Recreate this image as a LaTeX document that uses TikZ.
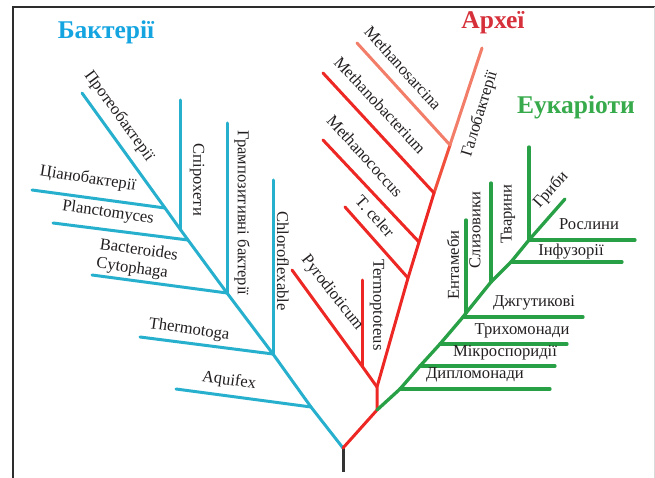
\documentclass[tikz,border=0pt]{standalone}
\usepackage{fontspec}
\setmainfont{Liberation Serif}
\definecolor{bline}{RGB}{38,176,205}
\definecolor{btitle}{RGB}{20,165,225}
\definecolor{rline}{RGB}{237,40,36}
\definecolor{rmid}{RGB}{240,80,60}
\definecolor{rlight}{RGB}{242,125,105}
\definecolor{rtitle}{RGB}{214,48,58}
\definecolor{gline}{RGB}{40,160,70}
\definecolor{gtitle}{RGB}{55,170,75}
\definecolor{txt}{RGB}{35,31,32}
\definecolor{frame}{RGB}{45,45,45}
\begin{document}
\begin{tikzpicture}[x=1pt,y=-1pt,
  br/.style={line width=3pt,line join=round,line cap=round},
  blue/.style={br,draw=bline},
  red/.style={br,draw=rline},
  green/.style={br,draw=gline,line width=3.3pt},
  lbl/.style={font=\fontsize{16.6}{19}\selectfont,text=txt,inner sep=0pt,anchor=center},
  ttl/.style={font=\fontsize{25.5}{28}\selectfont\bfseries,inner sep=0pt,anchor=center}]
\useasboundingbox (0,0) rectangle (655,478);
% frame
\coordinate (f0) at (12.5,478);
\coordinate (f1) at (12.5,7);
\coordinate (f2) at (655,7);
\coordinate (f3) at (654,7);
\coordinate (f4) at (654,478);
\draw[frame,line width=2pt] (f0) -- (f1) -- (f2);
\draw[black!15,line width=0.8pt] (f3) -- (f4);
% root
\coordinate (root) at (343,448);
\coordinate (stem) at (343,472);
\draw[line width=3pt,black!80] (stem) -- (root);
% ---------- bacteria ----------
\coordinate (b1) at (311,407);
\coordinate (b2) at (273,354);
\coordinate (b3) at (227,293);
\coordinate (b4) at (188,240);
\coordinate (b5) at (180,229);
\coordinate (b6) at (165,208);
\coordinate (bProt) at (82,93);
\draw[blue] (root) -- (b1) -- (b2) -- (b3) -- (b4) -- (b5) -- (b6) -- (bProt);
\coordinate (bAq) at (176,389);
\coordinate (bTh) at (140,337);
\coordinate (bBa) at (92,275);
\coordinate (bPl) at (53,223);
\coordinate (bCy) at (32,190);
\coordinate (bSp) at (180,100);
\coordinate (bGr) at (227,123);
\coordinate (bCh) at (273,180);
\draw[blue] (b1) -- (bAq);
\draw[blue] (b2) -- (bTh);
\draw[blue] (b3) -- (bBa);
\draw[blue] (b4) -- (bPl);
\draw[blue] (b6) -- (bCy);
\draw[blue] (b5) -- (bSp);
\draw[blue] (b3) -- (bGr);
\draw[blue] (b2) -- (bCh);
\node[lbl,rotate=-54] (tProt) at (119,116) {Протеобактерії};
\node[lbl,rotate=-9] (tCy) at (88,179) {Ціанобактерії};
\node[lbl,rotate=-8] (tPl) at (108,213) {Planctomyces};
\node[lbl,rotate=-8] (tBa) at (139,249) {Bacteroides};
\node[lbl,rotate=-8] (tCt) at (132,269) {Cytophaga};
\node[lbl,rotate=-8] (tTh) at (189,330) {Thermotoga};
\node[lbl,rotate=-8] (tAq) at (229,381) {Aquifex};
\node[lbl,rotate=-90] (tSp) at (197,180) {Спірохети};
\node[lbl,rotate=-90] (tGr) at (242,213) {Грампозитивні бактерії};
\node[lbl,rotate=-90] (tCh) at (283,261) {Chloroflexable};
\node[ttl,text=btitle] (TB) at (106,32) {Бактерії};
% ---------- archaea ----------
\coordinate (r1) at (377,410);
\coordinate (r2) at (377,387);
\coordinate (r3) at (408,278);
\coordinate (r4) at (419,242);
\coordinate (r5) at (434,193);
\coordinate (r6) at (450,145);
\coordinate (rGal) at (482,48);
\coordinate (rTm) at (362,366);
\coordinate (rPy) at (292,270);
\coordinate (rTmT) at (362,280);
\coordinate (rTc) at (345,207);
\coordinate (rMc) at (323,140);
\coordinate (rMb) at (323,73);
\coordinate (rMs) at (357,43);
\draw[red] (root) -- (r1) -- (r2) -- (r3) -- (r4) -- (r5);
\draw[br,draw=rmid] (r5) -- (r6);
\draw[br,draw=rlight] (r6) -- (rGal);
\draw[red] (r2) -- (rTm) -- (rPy);
\draw[red] (rTm) -- (rTmT);
\draw[red] (r3) -- (rTc);
\draw[red] (r4) -- (rMc);
\draw[red] (r5) -- (rMb);
\draw[br,draw=rlight] (r6) -- (rMs);
\node[lbl,rotate=-48] (tMs) at (403,68) {Methanosarcina};
\node[lbl,rotate=-47] (tMb) at (380,105) {Methanobacterium};
\node[lbl,rotate=-48] (tMc) at (365,156) {Methanococcus};
\node[lbl,rotate=-48] (tTc) at (375,216) {T. celer};
\node[lbl,rotate=-52] (tPy) at (332,293) {Pyrodioticum};
\node[lbl,rotate=-90] (tTm) at (377,305) {Termoptoteus};
\node[lbl,rotate=73] (tGal) at (480,114) {Галобактерії};
\node[ttl,text=rtitle] (TA) at (493,23) {Археї};
% ---------- eukaryotes ----------
\coordinate (g1) at (400,389);
\coordinate (g2) at (420,366);
\coordinate (g3) at (440,344);
\coordinate (g4) at (463,317);
\coordinate (g4b) at (466,313);
\coordinate (g5) at (491,282);
\coordinate (g6) at (511,262);
\coordinate (g7) at (529,240);
\coordinate (gFu) at (565,199);
\draw[green] (r1) -- (g1) -- (g2) -- (g3) -- (g4) -- (g4b) -- (g5) -- (g6) -- (g7) -- (gFu);
\coordinate (gDi) at (550,389);
\coordinate (gMi) at (555,366);
\coordinate (gTr) at (567,344);
\coordinate (gDz) at (583,317);
\coordinate (gIn) at (622,262);
\coordinate (gRo) at (635,240);
\coordinate (gEn) at (466,220);
\coordinate (gSl) at (491,183);
\coordinate (gTv) at (529,147);
\draw[green] (g1) -- (gDi);
\draw[green] (g2) -- (gMi);
\draw[green] (g3) -- (gTr);
\draw[green] (g4) -- (gDz);
\draw[green] (g6) -- (gIn);
\draw[green] (g7) -- (gRo);
\draw[green] (g4b) -- (gEn);
\draw[green] (g5) -- (gSl);
\draw[green] (g7) -- (gTv);
\node[lbl] (tDi) at (475,375) {Дипломонади};
\node[lbl] (tMi) at (505,353) {Мікроспоридії};
\node[lbl] (tTr) at (522,331) {Трихомонади};
\node[lbl] (tDz) at (534,303) {Джгутикові};
\node[lbl] (tIn) at (571,252) {Інфузорії};
\node[lbl] (tRo) at (589,224) {Рослини};
\node[lbl,rotate=48] (tFu) at (551,190) {Гриби};
\node[lbl,rotate=90] (tTv) at (508,214) {Тварини};
\node[lbl,rotate=90] (tSl) at (475,230) {Слизовики};
\node[lbl,rotate=90] (tEn) at (453,265) {Ентамеби};
\node[ttl,text=gtitle] (TE) at (576,107) {Еукаріоти};
\end{tikzpicture}
\end{document}
